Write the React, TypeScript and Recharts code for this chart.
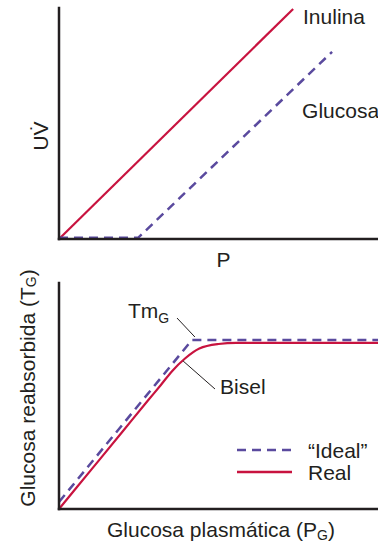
import React from 'react';
import {
  LineChart,
  Line,
  XAxis,
  YAxis,
  ReferenceDot,
  ReferenceLine,
  Legend,
} from 'recharts';

// ---- Data ----
const inulina = [
  { x: 0, y: 0 },
  { x: 73.4, y: 99.6 },
];
const glucosaTop = [
  { x: 0, y: 0.5 },
  { x: 24.8, y: 0.5 },
  { x: 85.6, y: 81 },
];
const ideal = [
  { x: 0, y: 3.1 },
  { x: 41.7, y: 74.8 },
  { x: 100, y: 74.8 },
];
const real = [
  { x: 0, y: 0 },
  { x: 10, y: 17.2 },
  { x: 20, y: 34.4 },
  { x: 28, y: 48.2 },
  { x: 32, y: 55.0 },
  { x: 35.5, y: 61.1 },
  { x: 39.5, y: 66.6 },
  { x: 44, y: 71.0 },
  { x: 50, y: 73.0 },
  { x: 55.5, y: 73.5 },
  { x: 100, y: 73.5 },
];
const topLabels = ['Inulina', 'Glucosa'];
const bottomLabels = ['Tm', 'Bisel'];
const axisTitles = ['UV\u0307', 'P', 'Glucosa reabsorbida (T', 'Glucosa plasmática (P'];
const seriesNames = ['\u201CIdeal\u201D', 'Real'];

const RED = '#c8133f';
const PURPLE = '#5a4a9e';
const INK = '#231f20';
const FONT = '"Liberation Sans", Arial, Helvetica, sans-serif';
const FS = 21;

const axisLineStyle = { stroke: INK, strokeWidth: 2.5, strokeLinecap: 'square' as const };

const textAt = (content: React.ReactNode) => (p: any) => {
  const vb = p.viewBox || {};
  return (
    <text x={vb.x} y={vb.y} fill={INK} fontSize={FS} fontFamily={FONT} textAnchor="start">
      {content}
    </text>
  );
};

const LegendContent = (props: any) => {
  const payload = [...(props.payload || [])].sort(
    (a: any, b: any) => seriesNames.indexOf(a.value) - seriesNames.indexOf(b.value)
  );
  return (
    <svg width={141} height={45} style={{ display: 'block' }}>
      {payload.map((e: any, i: number) => (
        <g key={i}>
          <line
            x1={0}
            x2={55}
            y1={10 + i * 22}
            y2={10 + i * 22}
            stroke={e.color}
            strokeWidth={2.5}
            strokeDasharray={e.payload && e.payload.strokeDasharray}
          />
          <text
            x={71}
            y={10 + i * 22}
            dominantBaseline="central"
            fill={INK}
            fontSize={FS}
            fontFamily={FONT}
          >
            {e.value}
          </text>
        </g>
      ))}
    </svg>
  );
};

export default function App() {
  return (
    <div style={{ position: 'absolute', left: 0, top: 0, width: 378, height: 542, background: '#fff' }}>
      {/* Top chart */}
      <div style={{ position: 'absolute', left: 0, top: 0 }}>
        <LineChart width={378} height={270} margin={{ top: 8, right: 0, bottom: 0, left: 0 }}>
          <XAxis
            type="number"
            dataKey="x"
            domain={[0, 100]}
            tick={false}
            tickLine={false}
            axisLine={axisLineStyle}
            height={31}
            label={(p: any) => {
              const vb = p.viewBox;
              return (
                <text x={vb.x + vb.width / 2 + 5} y={vb.y + 28} textAnchor="middle" fill={INK} fontSize={FS} fontFamily={FONT}>
                  {axisTitles[1]}
                </text>
              );
            }}
          />
          <YAxis
            type="number"
            dataKey="y"
            domain={[0, 100]}
            tick={false}
            tickLine={false}
            axisLine={axisLineStyle}
            width={59}
            label={(p: any) => {
              const vb = p.viewBox;
              const cx = vb.x + 40;
              const cy = vb.y + vb.height / 2 + 12.5;
              return (
                <text
                  x={cx}
                  y={cy}
                  transform={`rotate(-90, ${cx}, ${cy})`}
                  textAnchor="middle"
                  dominantBaseline="central"
                  fill={INK}
                  fontSize={FS}
                  fontFamily={FONT}
                >
                  {axisTitles[0]}
                </text>
              );
            }}
          />
          <Line
            data={inulina}
            dataKey="y"
            type="linear"
            stroke={RED}
            strokeWidth={2.2}
            dot={false}
            activeDot={false}
            isAnimationActive={false}
          />
          <Line
            data={glucosaTop}
            dataKey="y"
            type="linear"
            stroke={PURPLE}
            strokeWidth={2.5}
            strokeDasharray="9 6"
            dot={false}
            activeDot={false}
            isAnimationActive={false}
          />
          <ReferenceDot x={76.5} y={93.1} r={0} fill="none" stroke="none" ifOverflow="visible" label={textAt(topLabels[0])} />
          <ReferenceDot x={76.2} y={52.4} r={0} fill="none" stroke="none" ifOverflow="visible" label={textAt(topLabels[1])} />
        </LineChart>
      </div>

      {/* Bottom chart */}
      <div style={{ position: 'absolute', left: 0, top: 270 }}>
        <LineChart width={378} height={272} margin={{ top: 13, right: 0, bottom: 0, left: 0 }}>
          <XAxis
            type="number"
            dataKey="x"
            domain={[0, 100]}
            tick={false}
            tickLine={false}
            axisLine={axisLineStyle}
            height={33}
            label={(p: any) => {
              const vb = p.viewBox;
              return (
                <text x={vb.x + vb.width / 2 + 2.5} y={vb.y + 27.5} textAnchor="middle" fill={INK} fontSize={FS} fontFamily={FONT}>
                  {axisTitles[3]}
                  <tspan fontSize={14} dy={3.5}>G</tspan>
                  <tspan dy={-3.5}>)</tspan>
                </text>
              );
            }}
          />
          <YAxis
            type="number"
            dataKey="y"
            domain={[0, 100]}
            tick={false}
            tickLine={false}
            axisLine={axisLineStyle}
            width={59}
            label={(p: any) => {
              const vb = p.viewBox;
              const cx = vb.x + 27;
              const cy = vb.y + vb.height / 2 - 8;
              return (
                <text
                  x={cx}
                  y={cy}
                  transform={`rotate(-90, ${cx}, ${cy})`}
                  textAnchor="middle"
                  dominantBaseline="central"
                  fill={INK}
                  fontSize={FS}
                  fontFamily={FONT}
                >
                  {axisTitles[2]}
                  <tspan fontSize={14} dy={4}>G</tspan>
                  <tspan dy={-4}>)</tspan>
                </text>
              );
            }}
          />
          <Line
            name={seriesNames[0]}
            data={ideal}
            dataKey="y"
            type="linear"
            stroke={PURPLE}
            strokeWidth={2.5}
            strokeDasharray="9 6"
            dot={false}
            activeDot={false}
            isAnimationActive={false}
          />
          <Line
            name={seriesNames[1]}
            data={real}
            dataKey="y"
            type="monotone"
            stroke={RED}
            strokeWidth={2.2}
            dot={false}
            activeDot={false}
            isAnimationActive={false}
          />
          <ReferenceLine
            segment={[{ x: 37.0, y: 84.5 }, { x: 42.6, y: 76.1 }]}
            stroke={INK}
            strokeWidth={1}
            ifOverflow="visible"
          />
          <ReferenceLine
            segment={[{ x: 38.9, y: 65.5 }, { x: 48.9, y: 53.1 }]}
            stroke={INK}
            strokeWidth={1}
            ifOverflow="visible"
          />
          <ReferenceDot
            x={21.6}
            y={84.5}
            r={0}
            fill="none"
            stroke="none"
            ifOverflow="visible"
            label={textAt(
              <>
                {bottomLabels[0]}
                <tspan fontSize={14} dy={5}>G</tspan>
              </>
            )}
          />
          <ReferenceDot x={50.5} y={50.9} r={0} fill="none" stroke="none" ifOverflow="visible" label={textAt(bottomLabels[1])} />
          <Legend
            layout="vertical"
            align="center"
            verticalAlign="middle"
            content={<LegendContent />}
            wrapperStyle={{ position: 'absolute', left: 237, top: 170, width: 141, height: 45 }}
          />
        </LineChart>
      </div>
    </div>
  );
}
